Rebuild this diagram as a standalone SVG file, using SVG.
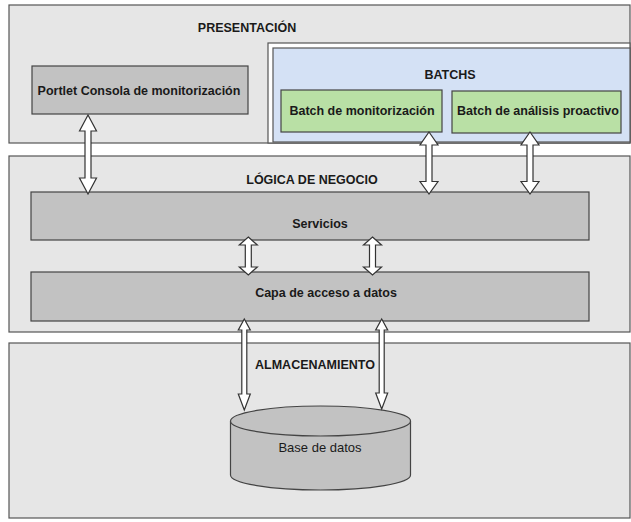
<svg xmlns="http://www.w3.org/2000/svg" width="631" height="522" viewBox="0 0 631 522">
<style>
.layer{fill:#e6e6e6;stroke:#555;stroke-width:1.2}
.comp{fill:#c2c2c2;stroke:#444;stroke-width:1.2}
.green{fill:#b9e0a5;stroke:#444;stroke-width:1.2}
.blue{fill:#d4e1f5;stroke:#555;stroke-width:1.2}
.white{fill:#ffffff;stroke:#555;stroke-width:1.2}
.t{font-family:"Liberation Sans",Arial,sans-serif;font-size:12.5px;font-weight:bold;fill:#1a1a1a;text-anchor:middle}
.r{font-family:"Liberation Sans",Arial,sans-serif;font-size:13px;fill:#1a1a1a;text-anchor:middle}
.arr{fill:#ffffff;stroke:#333;stroke-width:1.2;stroke-linejoin:miter}
</style>
<rect width="631" height="522" fill="#ffffff"/>
<g id="presentacion">
<rect class="layer" x="9" y="5" width="621" height="138"/>
<text class="t" x="247" y="32">PRESENTACIÓN</text>
</g>
<g id="portlet">
<rect class="comp" x="32" y="66" width="216" height="48"/>
<text class="t" x="139" y="95">Portlet Consola de monitorización</text>
</g>
<g id="batchs">
<rect class="white" x="268" y="43" width="362" height="100"/>
<rect class="blue" x="273" y="48" width="357" height="94"/>
<text class="t" x="450" y="79">BATCHS</text>
</g>
<g id="batch-monitorizacion">
<rect class="green" x="281" y="90" width="161" height="42"/>
<text class="t" x="362" y="114.5">Batch de monitorización</text>
</g>
<g id="batch-analisis">
<rect class="green" x="452" y="91" width="169" height="42"/>
<text class="t" x="538" y="115">Batch de análisis proactivo</text>
</g>
<g id="logica">
<rect class="layer" x="9" y="156" width="621" height="176"/>
<text class="t" x="312" y="183.5">LÓGICA DE NEGOCIO</text>
</g>
<g id="servicios">
<rect class="comp" x="31" y="192" width="558" height="48"/>
<text class="t" x="320" y="228">Servicios</text>
</g>
<g id="capa">
<rect class="comp" x="31" y="272" width="558" height="49"/>
<text class="t" x="326" y="297">Capa de acceso a datos</text>
</g>
<g id="almacenamiento">
<rect class="layer" x="9" y="343" width="621" height="175"/>
<text class="t" x="315" y="369">ALMACENAMIENTO</text>
</g>
<g id="base-datos">
<path class="comp" d="M230.5,421 L230.5,475 A90,15 0 0 0 410.5,475 L410.5,421"/>
<ellipse class="comp" cx="320.5" cy="421" rx="90" ry="15"/>
<text class="r" x="320" y="451.5">Base de datos</text>
</g>
<g id="connectors">
<polygon class="arr" points="88,115 96.5,131 91,131 91,178 96.5,178 88,194 79.5,178 85,178 85,131 79.5,131"/>
<polygon class="arr" points="429,132 438,145 432,145 432,181.5 438,181.5 429,194 420,181.5 426,181.5 426,145 420,145"/>
<polygon class="arr" points="530,132 539,145 533,145 533,181.5 539,181.5 530,194 521,181.5 527,181.5 527,145 521,145"/>
<polygon class="arr" points="248.3,237 257.3,245 251.3,245 251.3,267 257.3,267 248.3,275 239.3,267 245.3,267 245.3,245 239.3,245"/>
<polygon class="arr" points="372.5,237 381.5,245 375.5,245 375.5,267 381.5,267 372.5,275 363.5,267 369.5,267 369.5,245 363.5,245"/>
<polygon class="arr" points="244.3,319 250.3,330 246.8,330 246.8,394 250.3,394 244.3,410 238.3,394 241.8,394 241.8,330 238.3,330"/>
<polygon class="arr" points="381.7,319 387.7,330 384.2,330 384.2,393 387.7,393 381.7,409 375.7,393 379.2,393 379.2,330 375.7,330"/>
</g>
</svg>
